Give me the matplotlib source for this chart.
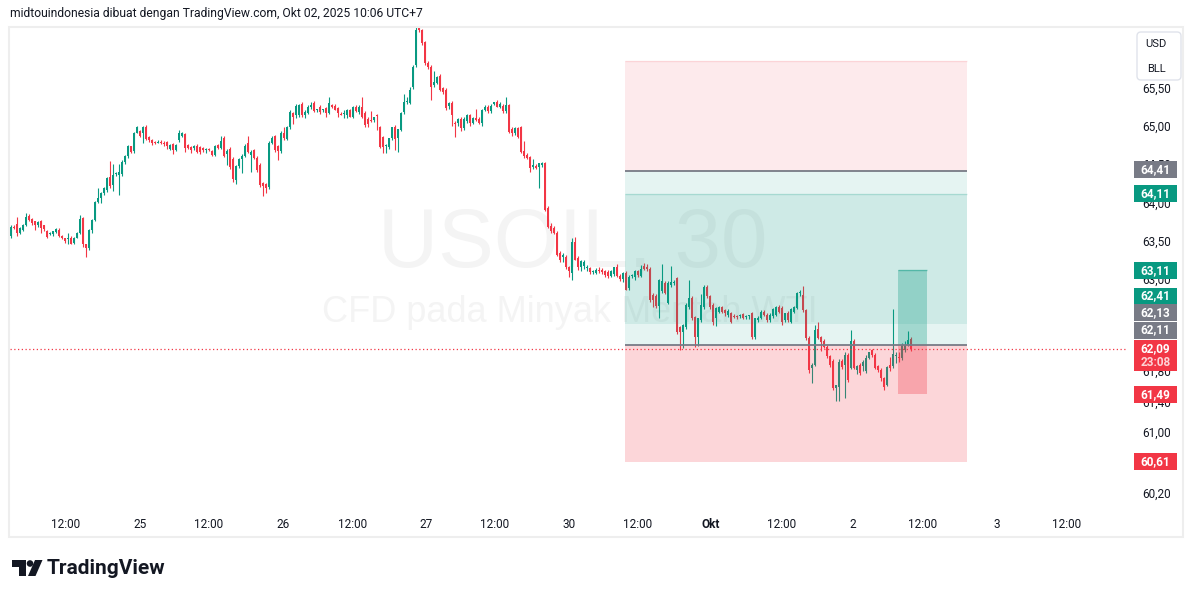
import numpy as np
import matplotlib
matplotlib.use("Agg")
import matplotlib.pyplot as plt
from matplotlib.patches import Rectangle, Polygon, Circle, FancyBboxPatch

plt.rcParams['font.family'] = ['Roboto', 'DejaVu Sans']

# USOIL 30 menit, harga (O/H/L/C per candle)
opens = [
    63.56, 63.68, 63.72, 63.60, 63.64, 63.71, 63.82, 63.78, 63.75, 63.70,
    63.75, 63.70, 63.63, 63.59, 63.58, 63.61, 63.64, 63.56, 63.53, 63.52,
    63.54, 63.47, 63.54, 63.60, 63.79, 63.45, 63.40, 63.64, 63.77, 64.00,
    64.05, 64.12, 64.16, 64.33, 64.22, 64.37, 64.36, 64.37, 64.53, 64.60,
    64.73, 64.67, 64.91, 64.93, 64.90, 64.98, 64.85, 64.82, 64.79, 64.78,
    64.79, 64.78, 64.79, 64.69, 64.76, 64.68, 64.81, 64.87, 64.89, 64.75,
    64.72, 64.71, 64.74, 64.72, 64.71, 64.68, 64.70, 64.67, 64.62, 64.75,
    64.71, 64.84, 64.63, 64.70, 64.57, 64.29, 64.47, 64.57, 64.61, 64.78,
    64.62, 64.68, 64.58, 64.49, 64.25, 64.24, 64.20, 64.78, 64.86, 64.74,
    64.67, 64.91, 64.83, 64.98, 65.17, 65.14,
    65.14, 65.29, 65.14, 65.17, 65.25, 65.30, 65.20, 65.25, 65.20, 65.23,
    65.17, 65.27, 65.26, 65.23, 65.16, 65.15, 65.14, 65.20, 65.12, 65.25,
    65.18, 65.25, 65.17, 65.09, 65.08, 65.07, 65.14, 64.98, 64.85, 64.73,
    64.72, 64.84, 64.99, 64.84, 64.95, 65.18, 65.31, 65.30, 65.50, 65.79,
    66.28, 66.25, 66.09, 65.82, 65.77, 65.53, 65.56, 65.65, 65.49, 65.47,
    65.26, 65.30, 65.04, 65.03, 65.09, 64.97, 65.06, 65.14, 65.04, 65.10,
    65.09, 65.04, 65.21, 65.25, 65.19, 65.29, 65.31, 65.25, 65.26, 65.19,
    65.27, 64.96, 64.90, 64.97, 64.98, 64.67, 64.62, 64.59, 64.46, 64.48,
    64.46, 64.49, 64.51, 63.93, 63.69, 63.67, 63.60,
    63.34, 63.29, 63.29, 63.15, 63.08, 63.48, 63.27, 63.15, 63.17, 63.14,
    63.14, 63.09, 63.08, 63.12, 63.11, 63.10, 63.09, 63.04, 63.06, 63.15,
    63.04, 63.00, 63.08, 62.88, 63.04, 63.02, 63.10, 63.04, 63.17, 63.15,
    63.13, 62.79, 62.77, 62.64, 62.84, 62.95, 62.69, 62.92, 62.95, 63.01,
    62.37, 62.31, 62.37, 62.63, 62.75, 62.50, 62.24, 62.46, 62.63, 62.90,
    62.77, 62.66, 62.49, 62.57, 62.63, 62.59, 62.53, 62.55, 62.52, 62.51,
    62.51, 62.54, 62.50, 62.51, 62.55, 62.24, 62.46, 62.49, 62.57, 62.53,
    62.46, 62.51, 62.53, 62.63, 62.62, 62.46, 62.55, 62.44, 62.57, 62.62,
    62.81, 62.79, 62.59, 62.23, 61.84, 61.88, 62.35, 62.24, 62.19, 62.11,
    61.99, 61.93, 61.58, 61.59, 61.93, 61.88, 62.01, 61.84, 62.19, 61.81,
    61.88, 61.86, 61.79, 61.97, 62.07, 62.01, 61.86, 61.81, 61.70, 61.62,
    61.88, 61.86, 61.99, 61.98, 61.96, 62.07, 62.14, 62.22,
]
highs = [
    63.70, 63.70, 63.81, 63.68, 63.72, 63.86, 63.85, 63.80, 63.76, 63.76,
    63.77, 63.71, 63.64, 63.61, 63.63, 63.66, 63.66, 63.57, 63.54, 63.60,
    63.56, 63.55, 63.61, 63.84, 63.81, 63.46, 63.65, 63.78, 64.02, 64.19,
    64.13, 64.20, 64.33, 64.54, 64.50, 64.39, 64.50, 64.55, 64.62, 64.75,
    64.74, 64.92, 65.00, 64.95, 65.00, 65.01, 64.86, 64.83, 64.80, 64.81,
    64.82, 64.80, 64.80, 64.76, 64.78, 64.76, 64.94, 64.92, 64.90, 64.76,
    64.73, 64.75, 64.76, 64.73, 64.72, 64.71, 64.71, 64.68, 64.75, 64.76,
    64.86, 64.86, 64.69, 64.72, 64.59, 64.49, 64.58, 64.63, 64.76, 64.86,
    64.68, 64.70, 64.60, 64.51, 64.26, 64.25, 64.80, 64.86, 64.88, 64.75,
    64.93, 64.98, 65.00, 65.20, 65.18, 65.28,
    65.28, 65.31, 65.20, 65.27, 65.31, 65.32, 65.22, 65.27, 65.22, 65.25,
    65.37, 65.29, 65.28, 65.25, 65.18, 65.20, 65.22, 65.22, 65.26, 65.27,
    65.27, 65.37, 65.19, 65.11, 65.19, 65.12, 65.16, 65.00, 64.87, 64.76,
    64.84, 64.99, 65.01, 64.96, 65.18, 65.42, 65.38, 65.50, 65.80, 66.29,
    66.29, 66.27, 66.11, 65.84, 65.79, 65.72, 65.65, 65.67, 65.51, 65.49,
    65.31, 65.32, 65.06, 65.10, 65.11, 65.11, 65.15, 65.16, 65.12, 65.22,
    65.11, 65.22, 65.27, 65.27, 65.28, 65.31, 65.34, 65.31, 65.28, 65.38,
    65.29, 64.98, 64.98, 64.99, 65.00, 64.80, 64.64, 64.61, 64.57, 64.50,
    64.52, 64.53, 64.53, 63.95, 63.73, 63.69, 63.62,
    63.36, 63.34, 63.31, 63.17, 63.53, 63.55, 63.30, 63.24, 63.24, 63.18,
    63.16, 63.12, 63.14, 63.15, 63.14, 63.12, 63.11, 63.11, 63.16, 63.20,
    63.06, 63.09, 63.10, 63.05, 63.07, 63.12, 63.12, 63.18, 63.21, 63.20,
    63.15, 62.82, 62.80, 63.00, 63.19, 62.97, 62.97, 63.17, 62.99, 63.03,
    62.39, 62.41, 62.68, 62.99, 62.77, 62.52, 62.49, 62.80, 62.92, 62.92,
    62.79, 62.68, 62.63, 62.65, 62.65, 62.61, 62.60, 62.57, 62.54, 62.53,
    62.54, 62.56, 62.53, 62.53, 62.57, 62.49, 62.51, 62.59, 62.59, 62.55,
    62.55, 62.62, 62.65, 62.66, 62.64, 62.56, 62.58, 62.62, 62.65, 62.83,
    62.86, 62.91, 62.61, 62.25, 61.90, 62.40, 62.44, 62.26, 62.21, 62.13,
    62.01, 61.95, 61.62, 61.95, 61.95, 62.04, 62.03, 62.33, 62.21, 61.88,
    61.90, 61.94, 62.00, 62.05, 62.09, 62.03, 61.88, 61.83, 61.72, 61.86,
    61.98, 62.60, 62.05, 62.04, 62.16, 62.19, 62.32, 62.24,
]
lows = [
    63.54, 63.65, 63.56, 63.58, 63.62, 63.69, 63.75, 63.71, 63.64, 63.68,
    63.60, 63.62, 63.53, 63.57, 63.56, 63.60, 63.55, 63.52, 63.47, 63.46,
    63.45, 63.45, 63.53, 63.59, 63.42, 63.29, 63.38, 63.60, 63.76, 63.99,
    63.99, 64.10, 64.14, 64.19, 64.15, 64.35, 64.10, 64.35, 64.50, 64.58,
    64.64, 64.65, 64.90, 64.85, 64.78, 64.81, 64.79, 64.75, 64.76, 64.77,
    64.76, 64.74, 64.70, 64.68, 64.63, 64.67, 64.79, 64.85, 64.66, 64.69,
    64.64, 64.68, 64.64, 64.63, 64.66, 64.65, 64.67, 64.60, 64.60, 64.69,
    64.69, 64.59, 64.49, 64.44, 64.27, 64.24, 64.45, 64.38, 64.59, 64.64,
    64.40, 64.56, 64.40, 64.20, 64.08, 64.12, 64.18, 64.76, 64.66, 64.55,
    64.65, 64.82, 64.81, 64.96, 65.02, 65.10,
    65.12, 65.12, 65.10, 65.15, 65.22, 65.18, 65.18, 65.16, 65.18, 65.11,
    65.15, 65.23, 65.20, 65.11, 65.14, 65.10, 65.10, 65.12, 65.10, 65.18,
    65.16, 65.10, 64.99, 64.99, 65.05, 65.05, 64.95, 64.71, 64.64, 64.64,
    64.70, 64.82, 64.68, 64.66, 64.93, 65.16, 65.28, 65.28, 65.48, 65.77,
    66.22, 66.05, 65.80, 65.74, 65.33, 65.50, 65.54, 65.45, 65.41, 65.20,
    65.22, 65.00, 64.85, 65.00, 64.93, 64.95, 65.04, 65.00, 65.02, 65.06,
    65.02, 65.00, 65.19, 65.17, 65.17, 65.27, 65.24, 65.23, 65.17, 65.17,
    64.90, 64.86, 64.88, 64.84, 64.65, 64.58, 64.56, 64.40, 64.44, 64.44,
    64.19, 64.46, 63.88, 63.66, 63.60, 63.58, 63.30,
    63.22, 63.22, 63.13, 63.03, 62.99, 63.24, 63.12, 63.10, 63.13, 63.10,
    63.07, 63.06, 63.06, 63.08, 63.07, 63.02, 63.01, 63.02, 63.04, 63.02,
    62.97, 62.96, 62.85, 62.85, 63.01, 62.99, 63.03, 63.02, 63.11, 63.10,
    62.70, 62.63, 62.62, 62.49, 62.82, 62.80, 62.67, 62.90, 62.92, 62.28,
    62.07, 62.10, 62.35, 62.60, 62.46, 62.11, 62.12, 62.44, 62.61, 62.75,
    62.61, 62.40, 62.38, 62.55, 62.55, 62.52, 62.50, 62.42, 62.49, 62.48,
    62.49, 62.47, 62.47, 62.48, 62.22, 62.22, 62.44, 62.47, 62.51, 62.44,
    62.44, 62.49, 62.51, 62.55, 62.40, 62.44, 62.44, 62.42, 62.55, 62.60,
    62.78, 62.57, 62.20, 61.77, 61.64, 61.86, 62.22, 62.06, 62.10, 61.96,
    61.85, 61.55, 61.41, 61.40, 61.82, 61.44, 61.65, 61.82, 61.82, 61.76,
    61.74, 61.80, 61.77, 61.95, 61.98, 61.82, 61.78, 61.67, 61.55, 61.60,
    61.80, 61.84, 61.90, 61.92, 61.94, 62.05, 62.12, 62.06,
]
closes = [
    63.68, 63.67, 63.60, 63.66, 63.70, 63.81, 63.77, 63.73, 63.70, 63.74,
    63.67, 63.65, 63.55, 63.59, 63.62, 63.65, 63.56, 63.54, 63.50, 63.53,
    63.46, 63.54, 63.60, 63.78, 63.45, 63.40, 63.64, 63.77, 64.00, 64.05,
    64.12, 64.19, 64.32, 64.21, 64.36, 64.37, 64.39, 64.53, 64.61, 64.73,
    64.66, 64.91, 64.98, 64.87, 64.98, 64.83, 64.81, 64.77, 64.78, 64.79,
    64.78, 64.77, 64.74, 64.75, 64.68, 64.75, 64.91, 64.91, 64.71, 64.71,
    64.68, 64.74, 64.66, 64.66, 64.68, 64.70, 64.69, 64.62, 64.74, 64.71,
    64.80, 64.61, 64.67, 64.46, 64.31, 64.47, 64.57, 64.61, 64.74, 64.66,
    64.66, 64.58, 64.42, 64.23, 64.21, 64.19, 64.78, 64.84, 64.68, 64.67,
    64.91, 64.84, 64.98, 65.18, 65.12, 65.26,
    65.27, 65.14, 65.18, 65.25, 65.27, 65.19, 65.21, 65.18, 65.21, 65.17,
    65.30, 65.25, 65.21, 65.17, 65.15, 65.16, 65.21, 65.12, 65.25, 65.19,
    65.25, 65.12, 65.01, 65.02, 65.07, 65.12, 65.13, 64.72, 64.72, 64.74,
    64.84, 64.98, 64.83, 64.96, 65.17, 65.31, 65.32, 65.47, 65.77, 66.25,
    66.25, 66.08, 65.82, 65.77, 65.51, 65.57, 65.64, 65.47, 65.44, 65.23,
    65.30, 65.14, 65.03, 65.09, 64.97, 65.09, 65.14, 65.03, 65.10, 65.08,
    65.04, 65.21, 65.25, 65.19, 65.26, 65.30, 65.25, 65.29, 65.19, 65.27,
    64.92, 64.91, 64.97, 64.85, 64.66, 64.61, 64.58, 64.45, 64.49, 64.45,
    64.51, 64.51, 63.90, 63.68, 63.62, 63.60, 63.31,
    63.25, 63.31, 63.15, 63.10, 63.48, 63.25, 63.15, 63.23, 63.22, 63.14,
    63.09, 63.10, 63.12, 63.11, 63.09, 63.05, 63.04, 63.10, 63.15, 63.04,
    63.00, 63.08, 62.86, 63.03, 63.05, 63.10, 63.05, 63.13, 63.13, 63.13,
    62.73, 62.73, 62.64, 62.99, 62.97, 62.82, 62.95, 62.96, 62.96, 62.31,
    62.31, 62.40, 62.66, 62.75, 62.49, 62.24, 62.49, 62.66, 62.90, 62.77,
    62.63, 62.44, 62.62, 62.63, 62.57, 62.55, 62.58, 62.44, 62.51, 62.50,
    62.52, 62.49, 62.51, 62.51, 62.24, 62.49, 62.49, 62.57, 62.53, 62.46,
    62.53, 62.60, 62.63, 62.57, 62.44, 62.55, 62.46, 62.60, 62.63, 62.81,
    62.82, 62.59, 62.23, 61.81, 61.88, 62.33, 62.23, 62.18, 62.11, 61.99,
    61.88, 61.58, 61.61, 61.92, 61.85, 62.01, 61.68, 62.19, 61.84, 61.86,
    61.77, 61.92, 61.97, 62.04, 62.00, 61.84, 61.81, 61.70, 61.59, 61.85,
    61.84, 62.02, 62.00, 61.96, 62.14, 62.14, 62.20, 62.09,
]

# label sumbu waktu (posisi dalam nomor candle)
time_pos = [18.3, 43, 66, 90.7, 113.7, 138.3, 161.3, 186, 209, 233.3, 256.7, 280.7, 304, 328.7, 351.7]
time_lbl = ['12:00', '25', '12:00', '26', '12:00', '27', '12:00', '30', '12:00', 'Okt',
            '12:00', '2', '12:00', '3', '12:00']
# ticks that sit fully under a badge are left out
price_ticks = [60.2, 61.0, 61.4, 61.8, 63.0, 63.5, 64.0, 64.5, 65.0, 65.5]

# level alat posisi
upper_stop = 65.85
target_a = 64.41
target_b = 64.11
small_tp = 63.11
entry_b = 62.41
entry_a = 62.13
small_sl = 61.49
stop_a = 60.61
last_price = 62.09
countdown = '23:08'

badge_vals = [64.41, 64.11, 63.11, 62.41, 62.13, 62.11, 62.09, 61.49, 60.61]
badge_kind = ['gray', 'up', 'up', 'up', 'gray', 'gray', 'down', 'down', 'down']

UP, DOWN, GRAY, TXT = '#089981', '#f23645', '#787b86', '#131722'
KIND = {'up': UP, 'down': DOWN, 'gray': GRAY}

W, H = 1195, 598
fig = plt.figure(figsize=(W / 100, H / 100), dpi=100)
ax = fig.add_axes([10 / W, 1 - 507 / H, 1118 / W, 480 / H])
ax.set_xlim(-0.33, 372.33)
ax.set_ylim(60.02, 66.29)
for s in ax.spines.values():
    s.set_visible(False)

# watermark
ax.text(0.503, 0.546, 'USOIL, 30', transform=ax.transAxes, ha='center', va='center',
        fontsize=60, color='#f4f4f4', family='Liberation Sans', zorder=0)
ax.text(0.501, 0.406, 'CFD pada Minyak Mentah WTI', transform=ax.transAxes, ha='center',
        va='center', fontsize=26, color='#f4f4f4', family='Liberation Sans', zorder=0)

# candles
o = np.array(opens)
hi = np.array(highs)
lo = np.array(lows)
c = np.array(closes)
idx = np.arange(len(c))
col = np.where(c >= o, UP, DOWN)
ax.vlines(idx, np.minimum(lo, np.minimum(o, c)), np.maximum(hi, np.maximum(o, c)),
          colors=col, lw=0.8, zorder=2)
body = c - o
body = np.where(np.abs(body) < 0.014, np.where(body >= 0, 0.014, -0.014), body)
ax.bar(idx, body, bottom=o, width=0.66, color=col, lw=0, zorder=2)

# position boxes
bx0, bx1 = 204.7, 318.7
sx0, sx1 = 295.6, 305.2

def zone(x0, x1, y0, y1, color, alpha):
    ax.add_patch(Rectangle((x0, y0), x1 - x0, y1 - y0, facecolor=color, alpha=alpha,
                           lw=0, zorder=3))

zone(bx0, bx1, target_a, upper_stop, DOWN, 0.1)
zone(bx0, bx1, entry_a, target_a, UP, 0.1)
zone(bx0, bx1, entry_b, target_b, UP, 0.1)
zone(bx0, bx1, stop_a, entry_a, DOWN, 0.2)
zone(sx0, sx1, entry_a, small_tp, UP, 0.3)
zone(sx0, sx1, small_sl, entry_a, DOWN, 0.3)
ax.hlines([upper_stop], bx0, bx1, colors=DOWN, alpha=0.12, lw=1, zorder=3)
ax.hlines([target_b], bx0, bx1, colors=UP, alpha=0.2, lw=1, zorder=3)
ax.hlines([small_tp], sx0, sx1, colors=UP, alpha=0.45, lw=1, zorder=3)
ax.hlines([target_a, entry_a], bx0, bx1, colors=GRAY, lw=1.3, zorder=4)
ax.axhline(last_price, color=DOWN, lw=0.9, ls=(0, (1, 2)), zorder=5)

# axes ticks
ax.set_xticks(time_pos)
ax.set_xticklabels(time_lbl)
for t in ax.get_xticklabels():
    if t.get_text() == 'Okt':
        t.set_fontweight('bold')
ax.tick_params(axis='x', length=0, pad=8, labelsize=8.5, labelcolor=TXT)
ax.yaxis.tick_right()
ax.set_yticks(price_ticks)
ax.set_yticklabels([f'{v:.2f}'.replace('.', ',') for v in price_ticks])
ax.tick_params(axis='y', length=0, pad=10, labelsize=8.5, labelcolor=TXT)

# overlay in pixel coordinates
ov = fig.add_axes([0, 0, 1, 1], zorder=5)
ov.set_xlim(0, W)
ov.set_ylim(0, H)
ov.axis('off')
ov.patch.set_visible(False)

ov.add_patch(Rectangle((9.5, H - 537), 1174, 510, fill=False, edgecolor='#eeeeee', lw=1.5))
ov.text(10, H - 13, 'midtouindonesia dibuat dengan TradingView.com, Okt 02, 2025 10:06 UTC+7',
        fontsize=8.7, color=TXT, va='center', ha='left')

ov.add_patch(FancyBboxPatch((1137, H - 80), 44, 48, boxstyle='round,pad=0,rounding_size=4',
                            facecolor='white', edgecolor='#e0e3eb', lw=1))
ov.text(1156, H - 44, 'USD', fontsize=8, color=TXT, ha='center', va='center')
ov.text(1156, H - 69, 'BLL', fontsize=8, color=TXT, ha='center', va='center')

# price badges (some pushed up so they don't overlap)
nudge = [1, 0, 0, 28, 33, 17, 0, 0, 0]
for v, k, dy in zip(badge_vals, badge_kind, nudge):
    yc = ax.transData.transform((0, v))[1] + dy
    h_extra = 14 if v == last_price else 0
    ov.add_patch(Rectangle((1134, yc - 8.5 - h_extra), 43, 17 + h_extra,
                           facecolor=KIND[k], lw=0))
    ov.text(1155.5, yc, f'{v:.2f}'.replace('.', ','), fontsize=8.5, color='white',
            ha='center', va='center', fontweight='bold')
    if v == last_price:
        ov.text(1155.5, yc - 14, countdown, fontsize=8.5, color='#fdd3d7',
                ha='center', va='center', fontweight='bold')

# TradingView logo
ov.add_patch(Polygon([(12, H - 560), (26, H - 560), (26, H - 576), (19, H - 576),
                      (19, H - 567), (12, H - 567)], closed=True, facecolor=TXT, lw=0))
ov.add_patch(Circle((30, H - 563.5), 3.3, facecolor=TXT, lw=0))
ov.add_patch(Polygon([(35, H - 560), (42.5, H - 560), (35.5, H - 576), (28, H - 576)],
                     closed=True, facecolor=TXT, lw=0))
ov.text(47, H - 568, 'TradingView', fontsize=15, fontweight='bold', color=TXT,
        ha='left', va='center')

fig.savefig('out.png', dpi=100, facecolor='white')
